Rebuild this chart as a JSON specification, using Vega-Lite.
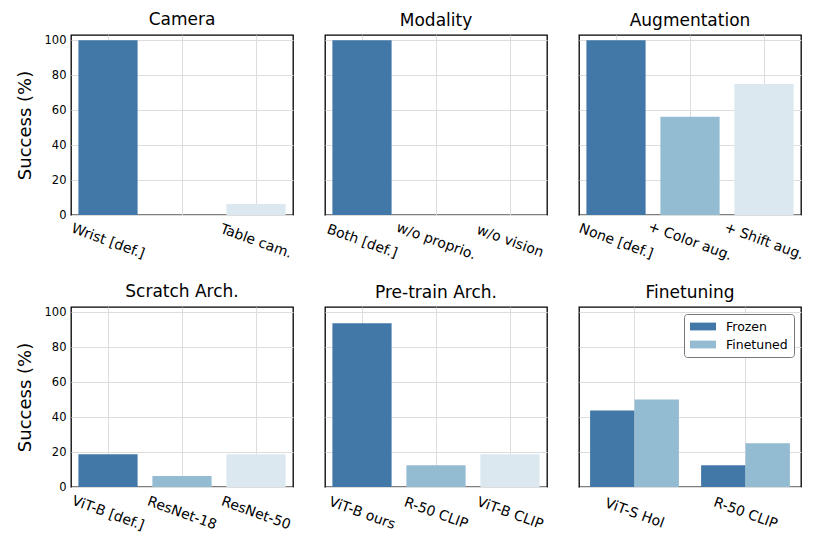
{
  "$schema": "https://vega.github.io/schema/vega-lite/v6.json",
  "padding": {"left": 15, "top": 10, "right": 5, "bottom": 5},
  "background": "white",
  "data": {"values": [
    {"panel": "Camera", "label": "Wrist [def.]", "pos": "1", "value": 100},
    {"panel": "Camera", "label": "", "pos": "2", "value": 0},
    {"panel": "Camera", "label": "Table cam.", "pos": "3", "value": 6.25},
    {"panel": "Modality", "label": "Both [def.]", "pos": "1", "value": 100},
    {"panel": "Modality", "label": "w/o proprio.", "pos": "2", "value": 0},
    {"panel": "Modality", "label": "w/o vision", "pos": "3", "value": 0},
    {"panel": "Augmentation", "label": "None [def.]", "pos": "1", "value": 100},
    {"panel": "Augmentation", "label": "+ Color aug.", "pos": "2", "value": 56.25},
    {"panel": "Augmentation", "label": "+ Shift aug.", "pos": "3", "value": 75},
    {"panel": "Scratch Arch.", "label": "ViT-B [def.]", "pos": "1", "value": 18.75},
    {"panel": "Scratch Arch.", "label": "ResNet-18", "pos": "2", "value": 6.25},
    {"panel": "Scratch Arch.", "label": "ResNet-50", "pos": "3", "value": 18.75},
    {"panel": "Pre-train Arch.", "label": "ViT-B ours", "pos": "1", "value": 93.75},
    {"panel": "Pre-train Arch.", "label": "R-50 CLIP", "pos": "2", "value": 12.5},
    {"panel": "Pre-train Arch.", "label": "ViT-B CLIP", "pos": "3", "value": 18.75},
    {"panel": "Finetuning", "label": "ViT-S Hol", "variant": "Frozen", "value": 43.75},
    {"panel": "Finetuning", "label": "ViT-S Hol", "variant": "Finetuned", "value": 50},
    {"panel": "Finetuning", "label": "R-50 CLIP", "variant": "Frozen", "value": 12.5},
    {"panel": "Finetuning", "label": "R-50 CLIP", "variant": "Finetuned", "value": 25}
  ]},
  "columns": 3,
  "spacing": {"column": 32, "row": 92},
  "bounds": "flush",
  "resolve": {"scale": {"color": "independent", "x": "independent", "y": "independent"}},
  "concat": [
    {
      "title": "Camera",
      "width": 222, "height": 180,
      "transform": [{"filter": "datum.panel === 'Camera'"}],
      "mark": {"type": "bar"},
      "encoding": {
        "x": {"field": "pos", "type": "nominal", "sort": ["1","2","3"], "scale": {"paddingInner": 0.2, "paddingOuter": 0.1},
              "axis": {"title": null, "labelExpr": "datum.value === '1' ? 'Wrist [def.]' : datum.value === '3' ? 'Table cam.' : ''"}},
        "y": {"field": "value", "type": "quantitative", "scale": {"domain": [0, 103], "nice": false}, "axis": {"title": "Success (%)", "values": [0,20,40,60,80,100]}},
        "color": {"field": "pos", "type": "nominal", "scale": {"domain": ["1","2","3"], "range": ["#4178a7", "#93bbd1", "#dce8f0"]}, "legend": null}
      }
    },
    {
      "title": "Modality",
      "width": 222, "height": 180,
      "transform": [{"filter": "datum.panel === 'Modality'"}],
      "mark": {"type": "bar"},
      "encoding": {
        "x": {"field": "label", "type": "nominal", "sort": ["Both [def.]", "w/o proprio.", "w/o vision"], "scale": {"paddingInner": 0.2, "paddingOuter": 0.1}, "axis": {"title": null}},
        "y": {"field": "value", "type": "quantitative", "scale": {"domain": [0, 103], "nice": false}, "axis": {"title": null, "labels": false, "values": [0,20,40,60,80,100]}},
        "color": {"field": "pos", "type": "nominal", "scale": {"domain": ["1","2","3"], "range": ["#4178a7", "#93bbd1", "#dce8f0"]}, "legend": null}
      }
    },
    {
      "title": "Augmentation",
      "width": 222, "height": 180,
      "transform": [{"filter": "datum.panel === 'Augmentation'"}],
      "mark": {"type": "bar"},
      "encoding": {
        "x": {"field": "label", "type": "nominal", "sort": ["None [def.]", "+ Color aug.", "+ Shift aug."], "scale": {"paddingInner": 0.2, "paddingOuter": 0.1}, "axis": {"title": null}},
        "y": {"field": "value", "type": "quantitative", "scale": {"domain": [0, 103], "nice": false}, "axis": {"title": null, "labels": false, "values": [0,20,40,60,80,100]}},
        "color": {"field": "pos", "type": "nominal", "scale": {"domain": ["1","2","3"], "range": ["#4178a7", "#93bbd1", "#dce8f0"]}, "legend": null}
      }
    },
    {
      "title": "Scratch Arch.",
      "width": 222, "height": 180,
      "transform": [{"filter": "datum.panel === 'Scratch Arch.'"}],
      "mark": {"type": "bar"},
      "encoding": {
        "x": {"field": "label", "type": "nominal", "sort": ["ViT-B [def.]", "ResNet-18", "ResNet-50"], "scale": {"paddingInner": 0.2, "paddingOuter": 0.1}, "axis": {"title": null}},
        "y": {"field": "value", "type": "quantitative", "scale": {"domain": [0, 103], "nice": false}, "axis": {"title": "Success (%)", "values": [0,20,40,60,80,100]}},
        "color": {"field": "pos", "type": "nominal", "scale": {"domain": ["1","2","3"], "range": ["#4178a7", "#93bbd1", "#dce8f0"]}, "legend": null}
      }
    },
    {
      "title": "Pre-train Arch.",
      "width": 222, "height": 180,
      "transform": [{"filter": "datum.panel === 'Pre-train Arch.'"}],
      "mark": {"type": "bar"},
      "encoding": {
        "x": {"field": "label", "type": "nominal", "sort": ["ViT-B ours", "R-50 CLIP", "ViT-B CLIP"], "scale": {"paddingInner": 0.2, "paddingOuter": 0.1}, "axis": {"title": null}},
        "y": {"field": "value", "type": "quantitative", "scale": {"domain": [0, 103], "nice": false}, "axis": {"title": null, "labels": false, "values": [0,20,40,60,80,100]}},
        "color": {"field": "pos", "type": "nominal", "scale": {"domain": ["1","2","3"], "range": ["#4178a7", "#93bbd1", "#dce8f0"]}, "legend": null}
      }
    },
    {
      "title": "Finetuning",
      "width": 222, "height": 180,
      "transform": [{"filter": "datum.panel === 'Finetuning'"}],
      "mark": {"type": "bar"},
      "encoding": {
        "x": {"field": "label", "type": "nominal", "sort": ["ViT-S Hol", "R-50 CLIP"], "scale": {"paddingInner": 0.2, "paddingOuter": 0.1}, "axis": {"title": null}},
        "xOffset": {"field": "variant", "type": "nominal", "sort": ["Frozen", "Finetuned"], "scale": {"paddingInner": 0, "paddingOuter": 0}},
        "y": {"field": "value", "type": "quantitative", "scale": {"domain": [0, 103], "nice": false}, "axis": {"title": null, "labels": false, "values": [0,20,40,60,80,100]}},
        "color": {"field": "variant", "type": "nominal", "sort": ["Frozen", "Finetuned"], "scale": {"domain": ["Frozen", "Finetuned"], "range": ["#4178a7", "#93bbd1"]},
                  "legend": {"title": null, "orient": "top-right", "offset": 7, "strokeColor": "#777777", "cornerRadius": 3, "fillColor": "white", "padding": 6,
                             "symbolType": "M-1,-0.6H3V0.6H-1Z", "symbolSize": 169, "symbolStrokeWidth": 0, "labelFontSize": 12.5, "labelColor": "black", "rowPadding": 5, "labelOffset": 23}}
      }
    }
  ],
  "config": {
    "font": "DejaVu Sans",
    "view": {"stroke": "black", "strokeWidth": 1.3},
    "title": {"fontSize": 17, "fontWeight": "normal", "color": "black", "offset": 5, "font": "DejaVu Sans"},
    "axis": {"domain": false, "ticks": false, "tickSize": 0, "grid": true, "gridColor": "#dddddd", "gridWidth": 1,
             "labelColor": "black", "titleColor": "black", "labelFont": "DejaVu Sans", "titleFont": "DejaVu Sans"},
    "axisX": {"labelAngle": 20, "labelAlign": "center", "labelBaseline": "middle", "labelPadding": 26, "labelFontSize": 14, "bandPosition": 0.5},
    "axisY": {"labelFontSize": 11.5, "labelPadding": 5, "titleFontSize": 18, "titleFontWeight": "normal", "titlePadding": 10}
  }
}
